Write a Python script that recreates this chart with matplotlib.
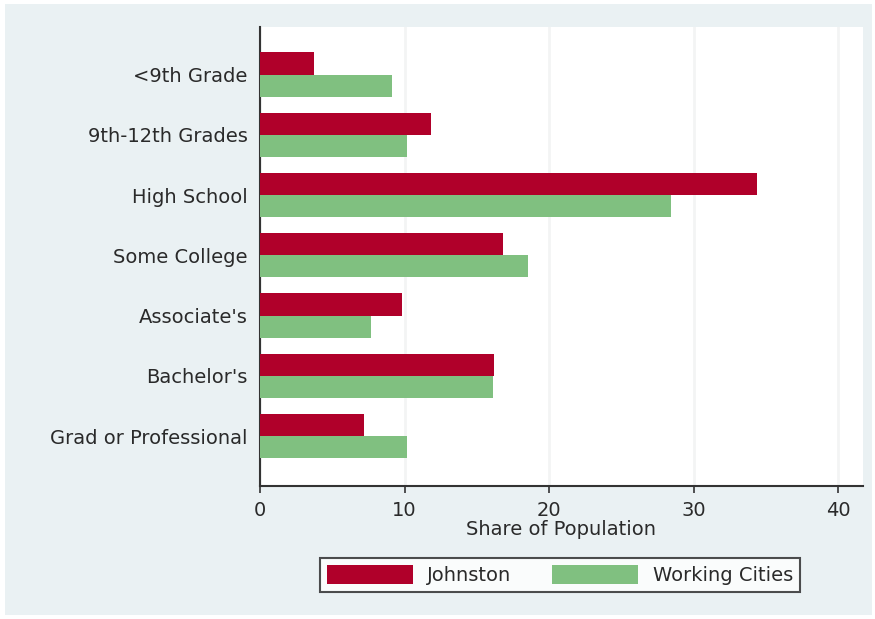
import matplotlib
matplotlib.use('Agg')
import matplotlib.pyplot as plt
from matplotlib.patches import Rectangle
import numpy as np

# education categories, top to bottom
categories = ['<9th Grade', '9th-12th Grades', 'High School', 'Some College',
              "Associate's", "Bachelor's", 'Grad or Professional']
johnston = [3.7, 11.8, 34.4, 16.8, 9.8, 16.2, 7.2]
working_cities = [9.1, 10.2, 28.4, 18.5, 7.7, 16.1, 10.2]
x_ticks = [0, 10, 20, 30, 40]

RED = '#b0002a'
GREEN = '#80c080'
BG = '#eaf1f3'
TXT = '#2a2a2a'
FS = 14

plt.rcParams['font.family'] = ['DejaVu Sans']

fig = plt.figure(figsize=(8.75, 6.19), dpi=100, facecolor='white')
# grey outer region like the Stata graph region
fig.patches.append(Rectangle((5 / 875, 4 / 619), 867 / 875, 611 / 619,
                             transform=fig.transFigure, facecolor=BG,
                             edgecolor='none', zorder=-10))

ax = fig.add_axes([260 / 875, (619 - 486) / 619, 603 / 875, 459 / 619])
ax.set_facecolor('white')

y = np.arange(len(categories))
h = 0.367
ax.barh(y - h / 2, johnston, height=h, color=RED, label='Johnston', zorder=3)
ax.barh(y + h / 2, working_cities, height=h, color=GREEN,
        label='Working Cities', zorder=3)

ax.set_ylim(6.83, -0.79)
ax.set_xlim(0, 41.7)
ax.set_yticks(y)
ax.set_yticklabels(categories, fontsize=FS, color=TXT)
ax.tick_params(axis='y', length=0, pad=9)
ax.set_xticks(x_ticks)
ax.set_xticklabels([str(t) for t in x_ticks], fontsize=FS, color=TXT)
ax.tick_params(axis='x', length=5, width=1.2, color='#333333', pad=6)
ax.xaxis.grid(True, color='#f3f4f4', linewidth=2, zorder=0)
ax.set_xlabel('Share of Population', fontsize=FS, color=TXT, labelpad=0)

for side in ('top', 'right'):
    ax.spines[side].set_visible(False)
for side in ('left', 'bottom'):
    ax.spines[side].set_color('#333333')
    ax.spines[side].set_linewidth(1.5)

leg = fig.legend(loc='center', bbox_to_anchor=(560 / 875, (619 - 575) / 619),
                 ncol=2, frameon=True, fancybox=False, fontsize=FS,
                 handlelength=4.4, handleheight=1.1, columnspacing=2.1,
                 borderpad=0.35, handletextpad=0.75, borderaxespad=0)
leg.get_frame().set_edgecolor('#222222')
leg.get_frame().set_linewidth(1.5)
leg.get_frame().set_facecolor('white')
for t in leg.get_texts():
    t.set_color(TXT)

fig.savefig('out.png', dpi=100, facecolor=fig.get_facecolor())
